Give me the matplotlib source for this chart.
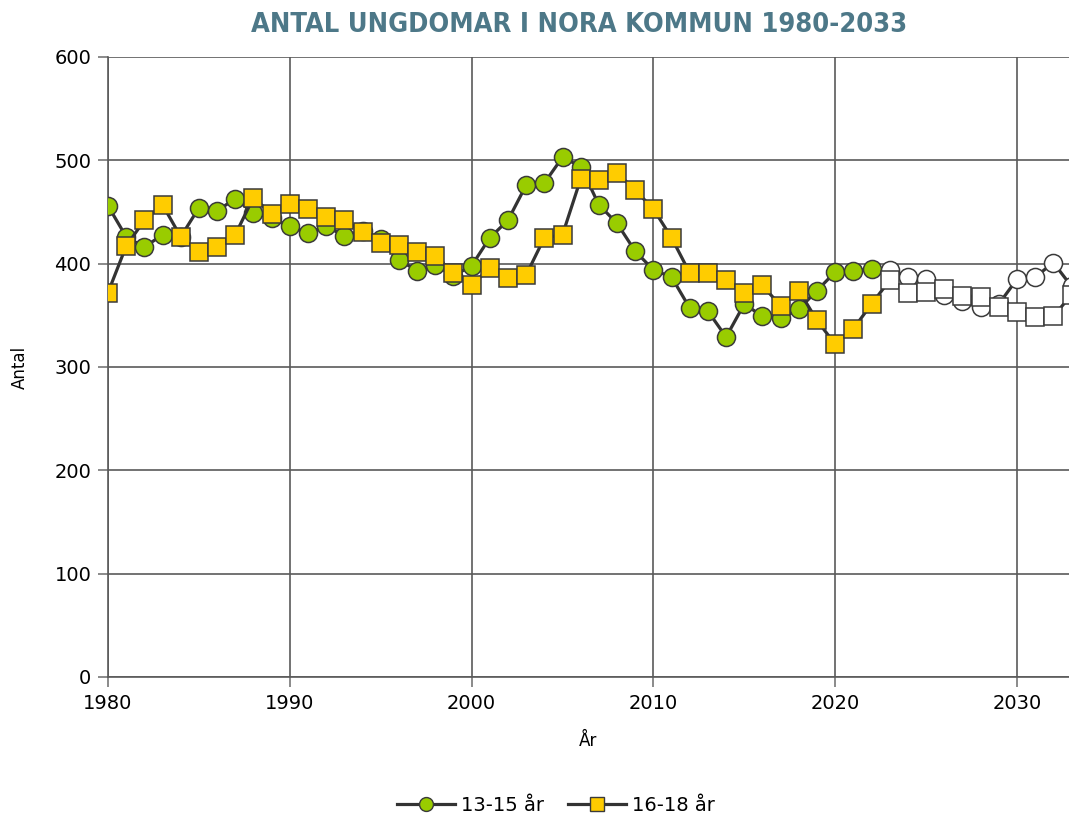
import matplotlib
matplotlib.use("Agg")
import matplotlib.pyplot as plt
from matplotlib.lines import Line2D
import numpy as np

years = list(range(1980, 2034))
age_13_15 = [456, 426, 416, 428, 426, 454, 451, 463, 449, 444,
             436, 430, 436, 427, 432, 424, 404, 393, 399, 388,
             398, 425, 442, 476, 478, 503, 494, 457, 439, 412,
             394, 387, 357, 354, 329, 361, 349, 347, 356, 374,
             392, 393, 395, 394, 387, 385, 370, 364, 358, 361,
             385, 387, 401, 378]
age_16_18 = [372, 417, 442, 457, 426, 411, 416, 428, 464, 448,
             458, 453, 445, 442, 431, 420, 418, 411, 407, 391,
             379, 396, 386, 389, 425, 428, 482, 481, 488, 471,
             453, 425, 391, 391, 384, 372, 379, 359, 374, 345,
             322, 337, 361, 384, 372, 373, 375, 369, 368, 358,
             353, 348, 349, 370]
first_forecast_year = 2023
series_names = ["13-15 år", "16-18 år"]
title = "ANTAL UNGDOMAR I NORA KOMMUN 1980-2033"

fig = plt.figure(figsize=(10.69, 8.18), dpi=100)
ax = fig.add_axes([108/1069, 1-677/818, (1069-108)/1069, (677-57)/818])

line_col = "#333333"
edge_col = "#3a3a3a"
styles = [("o", "#99CC00", 13.0), ("s", "#FFCC00", 12.5)]
yrs = np.array(years)
for vals, (mk, fc, ms) in zip([age_13_15, age_16_18], styles):
    v = np.array(vals)
    ax.plot(yrs, v, color=line_col, lw=2.3, zorder=3)
    hist = yrs < first_forecast_year
    ax.plot(yrs[hist], v[hist], ls="none", marker=mk, ms=ms, mfc=fc,
            mec=edge_col, mew=1.1, zorder=3)
    ax.plot(yrs[~hist], v[~hist], ls="none", marker=mk, ms=ms, mfc="white",
            mec=edge_col, mew=1.1, zorder=3)

ax.set_xlim(1980, 1980 + (1069-108) / (909/50))
ax.set_ylim(0, 600)
ax.set_xticks(range(1980, 2031, 10))
ax.set_yticks(range(0, 601, 100))
ax.grid(True, color="#5a5a5a", lw=1.2, zorder=0)
ax.set_axisbelow(True)
for s in ["top", "right"]:
    ax.spines[s].set_visible(False)
for s in ["left", "bottom"]:
    ax.spines[s].set_color("#5a5a5a")
    ax.spines[s].set_linewidth(1.2)
ax.tick_params(direction="out", length=7, width=1.2, color="#777777",
               labelsize=14, pad=5)
ax.set_xlabel("År", fontsize=12, labelpad=14)
ax.set_ylabel("Antal", fontsize=12, labelpad=18)

fig.text(0.5416, 0.969, title, ha="center", va="center", fontsize=19.5,
         fontweight="bold", fontstretch="condensed", color="#4D7888",
         family=["DejaVu Sans"])

handles = [Line2D([0], [0], color=line_col, lw=2.3, marker=m, ms=10,
                  mfc=fc, mec=edge_col, mew=1.0)
           for (m, fc, ms) in styles]
fig.legend(handles, series_names, loc="center", bbox_to_anchor=(0.52, 0.015),
           ncol=2, frameon=False, fontsize=14, handlelength=3.0,
           columnspacing=1.2, handletextpad=0.3)

fig.savefig("out.png", dpi=100)
